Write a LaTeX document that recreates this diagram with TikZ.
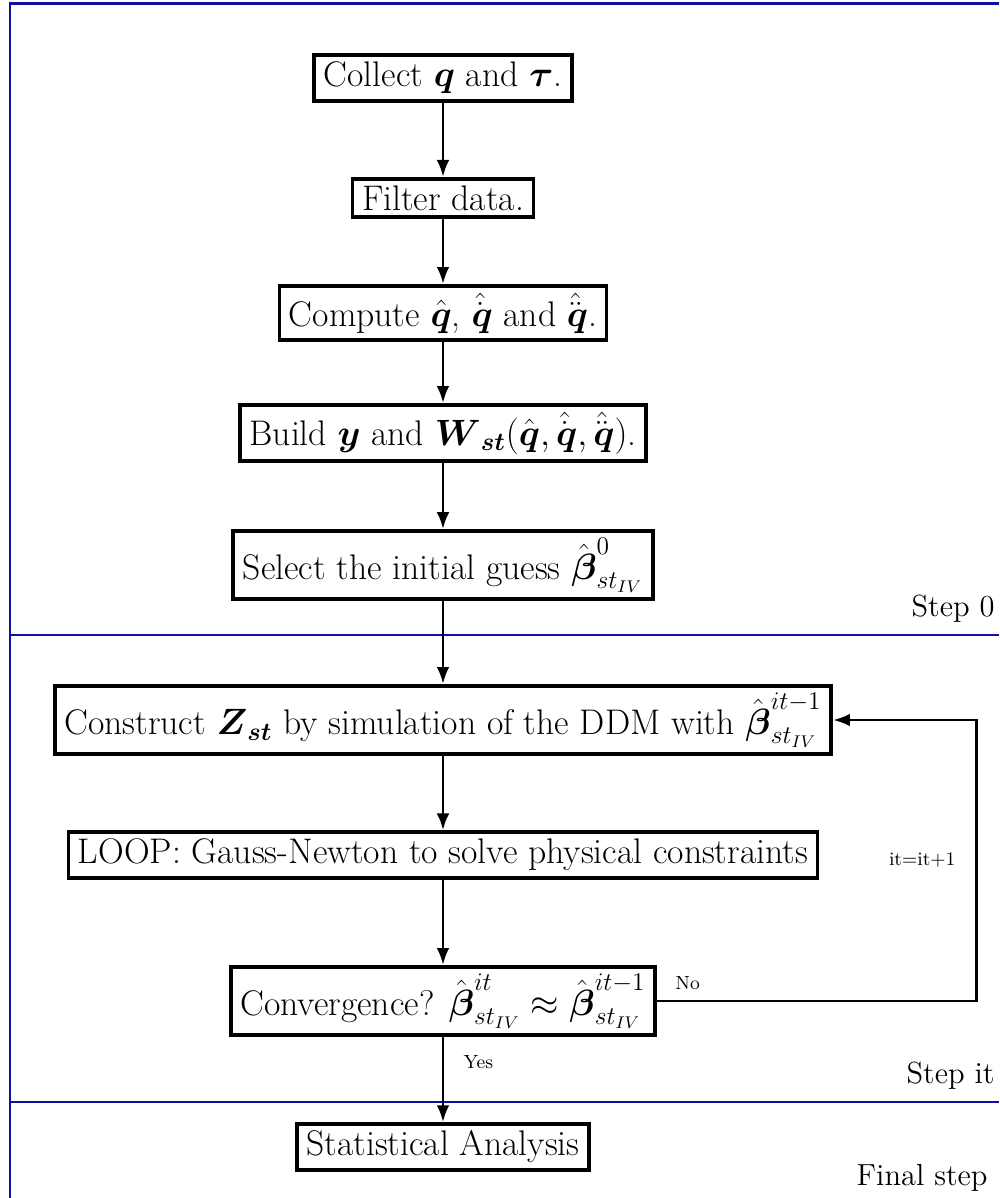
\documentclass[tikz,border=0pt]{standalone}
\usepackage{amsmath,amssymb}
\usetikzlibrary{arrows.meta}
\definecolor{framecol}{RGB}{15,15,165}
\begin{document}
\begin{tikzpicture}[x=0.472pt,y=-0.472pt,
  stepbox/.style={draw, line width=1.7pt, font=\fontsize{16.8}{20}\selectfont, inner xsep=4.5pt, inner ysep=3.2pt},
  flow/.style={line width=1.4pt, -{Latex[length=8pt,width=6pt]}},
  framel/.style={draw=framecol, line width=1.2pt},
  steplabel/.style={font=\Large, anchor=base east, inner sep=0pt},
  smalllabel/.style={font=\small, inner sep=0pt}]
\useasboundingbox (0,0) rectangle (999,1198);
\draw[framel] (999,3.5) -- (10,3.5) -- (10,1198);
\draw[framel] (10,635) -- (999,635);
\draw[framel] (10,1102) -- (999,1102);

\node[stepbox] (collect) at (443,78) {Collect $\boldsymbol{q}$ and $\boldsymbol{\tau}$.};
\node[stepbox] (filter) at (443,198) {Filter data.};
\node[stepbox] (compute) at (443,313) {Compute $\hat{\boldsymbol{q}}$, $\hat{\dot{\boldsymbol{q}}}$ and $\hat{\ddot{\boldsymbol{q}}}$.};
\node[stepbox] (build) at (443,433) {Build $\boldsymbol{y}$ and $\boldsymbol{W}_{\boldsymbol{st}}(\hat{\boldsymbol{q}},\hat{\dot{\boldsymbol{q}}},\hat{\ddot{\boldsymbol{q}}})$.};
\node[stepbox] (select) at (443,565) {Select the initial guess $\hat{\boldsymbol{\beta}}^{0}_{st_{IV}}$};
\node[stepbox] (construct) at (443,720) {Construct $\boldsymbol{Z}_{\boldsymbol{st}}$ by simulation of the DDM with $\hat{\boldsymbol{\beta}}^{it-1}_{st_{IV}}$};
\node[stepbox] (loop) at (443,855) {LOOP: Gauss-Newton to solve physical constraints};
\node[stepbox] (conv) at (443,1001) {Convergence? $\hat{\boldsymbol{\beta}}^{it}_{st_{IV}}\approx\hat{\boldsymbol{\beta}}^{it-1}_{st_{IV}}$};
\node[stepbox] (stat) at (443,1147) {Statistical Analysis};

\draw[flow] (collect) -- (filter);
\draw[flow] (filter) -- (compute);
\draw[flow] (compute) -- (build);
\draw[flow] (build) -- (select);
\draw[flow] (select) -- (construct);
\draw[flow] (construct) -- (loop);
\draw[flow] (loop) -- (conv);
\draw[flow] (conv) -- node[smalllabel, pos=0.3, right=9pt] (yes) {Yes} (stat);

\coordinate (backx) at (976,0);
\draw[flow] (conv.east) -- (conv.east -| backx)
  -- node[smalllabel, midway, left=9pt] (itlab) {it=it+1} (construct.east -| backx)
  -- (construct.east);
\node[smalllabel, anchor=base west] (no) at ([xshift=8.5pt,yshift=5.5pt]conv.east) {No};

\node[steplabel] (s0) at (995,616) {Step 0};
\node[steplabel] (sit) at (995,1083) {Step it};
\node[steplabel] (sfin) at (988,1185) {Final step};
\end{tikzpicture}
\end{document}
